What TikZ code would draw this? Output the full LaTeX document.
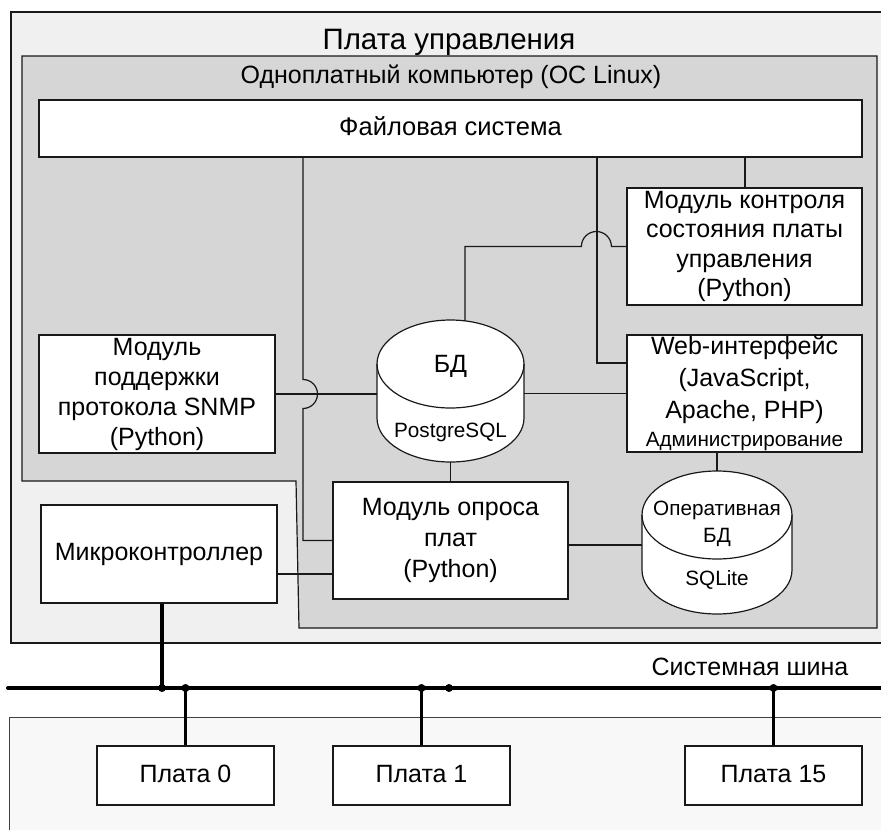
\documentclass[tikz,border=0pt]{standalone}
\usepackage{fontspec}
\setmainfont{Liberation Sans}
\usetikzlibrary{calc}
\definecolor{outerfill}{RGB}{240,240,240}
\definecolor{greyfill}{RGB}{214,214,214}
\definecolor{botfill}{RGB}{248,248,248}
\begin{document}
\begin{tikzpicture}[x=1pt,y=1pt,
  conn/.style={line width=1.2pt, draw=black!90},
  box/.style={draw=black!90, line width=1.2pt, fill=white, inner sep=0pt, align=center, font=\fontsize{25}{30}\selectfont},
  oneline/.style={text height=18pt, text depth=5pt},
  lbl/.style={inner sep=0pt, font=\fontsize{25}{30}\selectfont},
  small/.style={inner sep=0pt, font=\fontsize{20.7}{24}\selectfont},
  busline/.style={line width=4pt, draw=black},
  riser/.style={line width=3.5pt, draw=black},
  busdot/.style={circle, fill=black, inner sep=0pt, minimum size=8pt},
  holder/.style={inner sep=0pt, draw=none}
]
\useasboundingbox (0,0) rectangle (881,-830);
\clip (0,0) rectangle (881,-830);
% containers
\draw[conn, fill=outerfill] (11,-12) rectangle (900,-643);
\draw[conn, fill=greyfill] (22,-56) -- (877,-56) -- (877,-628) -- (299,-628) -- (296,-481) -- (22,-481) -- cycle;
\fill[botfill] (9,-717) rectangle (900,-850);
\draw[line width=1pt, draw=black!75] (9,-850) |- (900,-717);
% titles
\node[lbl, font=\fontsize{29.5}{34}\selectfont] (t1) at (449,-42) {Плата управления};
\node[lbl] (t2) at (451,-77) {Одноплатный компьютер (ОС Linux)};
% boxes
\node[box, oneline, minimum width=823pt, minimum height=57pt, font=\fontsize{25.5}{30}\selectfont] (fs) at (450.5,-128.5) {Файловая система};
\node[box, minimum width=235pt, minimum height=117pt, font=\fontsize{25}{29.5}\selectfont] (mkc) at (744.5,-246.5) {Модуль контроля\\состояния платы\\управления\\(Python)};
\node[box, minimum width=236pt, minimum height=118pt] (snmp) at (157,-394) {Модуль\\поддержки\\протокола SNMP\\(Python)};
\node[box, minimum width=235pt, minimum height=117pt, font=\fontsize{25}{32}\selectfont] (web) at (744.5,-393.5) {Web-интерфейс\\(JavaScript,\\Apache, PHP)\\[-4pt]{\fontsize{20.7}{24}\selectfont Администрирование}};
\node[box, minimum width=235pt, minimum height=117pt, font=\fontsize{25}{31}\selectfont] (mop) at (450.5,-540.5) {Модуль опроса\\плат\\(Python)};
\node[box, oneline, minimum width=236pt, minimum height=98pt] (mc) at (159,-554) {Микроконтроллер};
\node[box, oneline, minimum width=177pt, minimum height=59pt] (p0) at (185.5,-775.5) {Плата 0};
\node[box, oneline, minimum width=177pt, minimum height=59pt] (p1) at (421.5,-775.5) {Плата 1};
\node[box, oneline, minimum width=177pt, minimum height=59pt] (p15) at (773.5,-775.5) {Плата 15};
% cylinder PostgreSQL
\draw[conn, fill=white] (377,-364) -- (377,-418) arc[start angle=180, end angle=360, x radius=73.5pt, y radius=44pt] -- (524,-364) arc[start angle=0, end angle=180, x radius=73.5pt, y radius=44pt] -- cycle;
\draw[conn] (377,-364) arc[start angle=180, end angle=360, x radius=73.5pt, y radius=44pt];
\node[holder, minimum width=147pt, minimum height=142pt] (db) at (450.5,-391) {};
\node[lbl] (dbt) at (450.5,-366) {БД};
\node[small] (dbs) at (450.5,-432) {PostgreSQL};
% cylinder SQLite
\draw[conn, fill=white] (642,-515) -- (642,-570) arc[start angle=180, end angle=360, x radius=75pt, y radius=44pt] -- (792,-515) arc[start angle=0, end angle=180, x radius=75pt, y radius=44pt] -- cycle;
\draw[conn] (642,-515) arc[start angle=180, end angle=360, x radius=75pt, y radius=44pt];
\node[holder, minimum width=150pt, minimum height=143pt] (odb) at (717,-542.5) {};
\node[small] (odb1) at (717,-510) {Оперативная};
\node[small] (odb2) at (717,-537) {БД};
\node[small] (odb3) at (717,-580) {SQLite};
% helper coordinates
\coordinate (x303) at (303,0);
\coordinate (x597) at (597,0);
\coordinate (x745) at (745,0);
\coordinate (x162) at (162,0);
\coordinate (dbtop) at (465,-321);
\coordinate (busL) at (8,-688);
\coordinate (busR) at (900,-688);
% connectors
\draw[conn] (fs.south -| x745) -- (mkc.north -| x745);
\draw[conn] (fs.south -| x597) |- ($(web.west)+(0,30.5)$);
\draw[conn] (dbtop) |- ($(mkc.west)+(-45,0)$) arc[start angle=180, end angle=0, radius=15pt] -- (mkc.west);
\draw[conn] (snmp.east) -- (snmp.east -| db.west);
\draw[conn] (web.west -| db.east) -- (web.west);
\draw[conn] (fs.south -| x303) -- ($(snmp.east -| x303)+(0,14.5)$) arc[start angle=90, end angle=-90, radius=14.5pt] |- (mop.west);
\draw[conn] (db.south) -- (mop.north);
\draw[conn] ($(mop.east)+(0,-4.5)$) -- ($(mop.east -| odb.west)+(0,-4.5)$);
\draw[conn] (web.south -| odb.north) -- (odb.north);
\draw[conn] ($(mc.east)+(0,-20)$) -- ($(mc.east -| mop.west)+(0,-20)$);
% bus
\draw[busline, line cap=round] (busL) -- (busR);
\node[lbl, anchor=base] (busname) at (750,-675) {Системная шина};
\draw[riser] (mc.south -| x162) -- (busL -| x162);
\node[busdot] (d1) at (busL -| x162) {};
\draw[riser] (p0.north) -- (p0.north |- busL);
\node[busdot] (d2) at (p0.north |- busL) {};
\draw[riser] (p1.north) -- (p1.north |- busL);
\node[busdot] (d3) at (p1.north |- busL) {};
\node[busdot] (d4) at (449,-688) {};
\draw[riser] (p15.north) -- (p15.north |- busL);
\node[busdot] (d5) at (p15.north |- busL) {};
\end{tikzpicture}
\end{document}
